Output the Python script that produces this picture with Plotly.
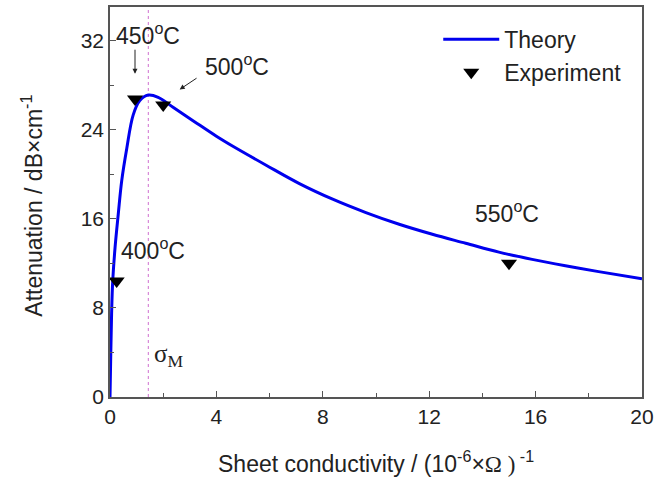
import plotly.graph_objects as go

# Theory curve
theory_x = [0.0, 0.03, 0.06, 0.1, 0.19, 0.31, 0.44, 0.63, 0.87, 1.12, 1.44, 1.81, 2.37, 3.12,
            4.0, 4.62, 5.87, 7.12, 8.37, 9.62, 10.87, 12.12, 13.37, 14.62, 15.87, 17.12,
            18.37, 20.0]
theory_y = [0.0, 4.0, 7.5, 10.3, 13.4, 16.4, 19.4, 22.3, 25.3, 26.6, 27.1, 26.9, 26.0, 24.8,
            23.4, 22.5, 20.8, 19.15, 17.75, 16.55, 15.5, 14.6, 13.8, 13.0, 12.35, 11.78,
            11.25, 10.6]

# Experiment points
exp_x = [0.25, 0.94, 2.0, 15.0]
exp_y = [10.4, 26.75, 26.2, 12.0]

sigma_m = 1.44

x_ticks = [0, 4, 8, 12, 16, 20]
y_ticks = [0, 8, 16, 24, 32]

FONT = "Liberation Sans, Arial, sans-serif"
SERIF = "Liberation Serif, Times New Roman, serif"
TXT = "#222"

fig = go.Figure()
fig.add_trace(go.Scatter(x=theory_x, y=theory_y, mode="lines", name="Theory",
                         line=dict(color="#0000ee", width=3, shape="spline", smoothing=1.0)))
fig.add_trace(go.Scatter(x=exp_x, y=exp_y, mode="markers", name="Experiment",
                         marker=dict(symbol="triangle-down", size=14, color="black")))

fig.add_shape(type="line", x0=sigma_m, x1=sigma_m, y0=0, y1=35, xref="x", yref="y",
              line=dict(color="#d070d0", width=1, dash="dot"), layer="below")

anns = [
    dict(x=1.42, y=32.6, text="450<sup>o</sup>C"),
    dict(x=4.78, y=29.8, text="500<sup>o</sup>C"),
    dict(x=1.6, y=13.3, text="400<sup>o</sup>C"),
    dict(x=14.92, y=16.6, text="550<sup>o</sup>C"),
]
for a in anns:
    fig.add_annotation(x=a["x"], y=a["y"], text=a["text"], showarrow=False,
                       font=dict(family=FONT, size=23, color=TXT))

fig.add_annotation(x=2.2, y=3.7, text="σ<sub>M</sub>", showarrow=False,
                   font=dict(family=SERIF, size=25, color=TXT))

# arrows
fig.add_annotation(x=0.94, y=29.0, ax=0.94, ay=31.3, xref="x", yref="y", axref="x", ayref="y",
                   text="", showarrow=True, arrowhead=2, arrowsize=1, arrowwidth=1, arrowcolor=TXT)
fig.add_annotation(x=2.62, y=27.6, ax=3.31, ay=28.7, xref="x", yref="y", axref="x", ayref="y",
                   text="", showarrow=True, arrowhead=2, arrowsize=1, arrowwidth=1, arrowcolor=TXT)

# axis titles
fig.add_annotation(xref="paper", yref="paper", x=0.5, y=-0.166, xanchor="center", yanchor="middle",
                   text="Sheet conductivity / (10<sup>-6</sup>×<span style='font-family:Liberation Serif'>Ω )</span><sup> -1</sup>",
                   showarrow=False, font=dict(family=FONT, size=23, color=TXT))
fig.add_annotation(xref="paper", yref="paper", x=-0.147, y=0.49, xanchor="center", yanchor="middle",
                   text="Attenuation / dB×cm<sup>-1</sup>", textangle=-90,
                   showarrow=False, font=dict(family=FONT, size=23, color=TXT))

axis_common = dict(showline=True, linecolor="#555", linewidth=1.5, mirror=True,
                   ticks="inside", ticklen=6, tickcolor="#555", showgrid=False, zeroline=False,
                   tickfont=dict(family=FONT, size=21, color=TXT))

fig.update_xaxes(range=[0, 20], tickvals=x_ticks,
                 minor=dict(ticks="inside", ticklen=4, tickcolor="#555", dtick=2, tick0=0),
                 **axis_common)
fig.update_yaxes(range=[0, 35], tickvals=y_ticks,
                 minor=dict(ticks="inside", ticklen=4, tickcolor="#555", dtick=4, tick0=0),
                 **axis_common)

fig.update_layout(
    width=672, height=479,
    margin=dict(l=110, r=30, t=5, b=82),
    plot_bgcolor="white", paper_bgcolor="white",
    legend=dict(x=0.617, y=0.972, xanchor="left", yanchor="top", bgcolor="rgba(0,0,0,0)",
                font=dict(family=FONT, size=23, color=TXT), itemwidth=56, tracegroupgap=0),
)

fig.write_html("out.html")
